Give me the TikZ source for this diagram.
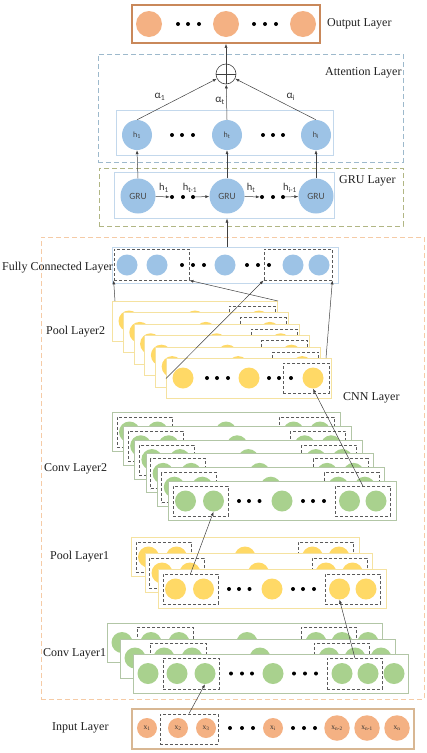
\documentclass[tikz,border=0pt]{standalone}
\usepackage{fontspec}
\setmainfont{Liberation Serif}
\newfontfamily\sanf{Carlito}
\usetikzlibrary{arrows.meta}
\definecolor{orgfill}{HTML}{F4B183}
\definecolor{orgline}{HTML}{C9885A}
\definecolor{inpline}{HTML}{D8B793}
\definecolor{bluefill}{HTML}{9DC3E6}
\definecolor{blueline}{HTML}{C3D8EC}
\definecolor{attline}{HTML}{9DB9CC}
\definecolor{gruline}{HTML}{B1B684}
\definecolor{cnnline}{HTML}{F5CBA6}
\definecolor{yelfill}{HTML}{FFD966}
\definecolor{yelline}{HTML}{F5E2A0}
\definecolor{grnfill}{HTML}{A9D18E}
\definecolor{grnline}{HTML}{B2C6A6}
\definecolor{dashc}{HTML}{5A5A5A}
\definecolor{arrc}{HTML}{404040}
\tikzset{
  lbl/.style={anchor=west, font=\fontsize{12}{14}\selectfont, text=black!88, inner sep=0pt},
  cbox/.style={dash pattern=on 5pt off 3pt, line width=1pt, inner sep=0pt},
  ocirc/.style={circle, fill=orgfill, inner sep=0pt, minimum size=#1},
  ocirc/.default=26pt,
  bcirc/.style={circle, fill=bluefill, inner sep=0pt, minimum size=#1},
  ycirc/.style={circle, fill=yelfill, inner sep=0pt, minimum size=21pt},
  gcirc/.style={circle, fill=grnfill, inner sep=0pt, minimum size=21pt},
  fcirc/.style={circle, fill=bluefill, inner sep=0pt, minimum size=21pt},
  dotn/.style={circle, fill=black, inner sep=0pt, minimum size=4pt},
  dbox/.style={draw=dashc, dash pattern=on 3pt off 2pt, line width=0.8pt, inner sep=0pt},
  arr/.style={-{Latex[length=4pt,width=3pt]}, draw=arrc, line width=0.5pt},
  yrect/.style={draw=yelline, fill=white, line width=1pt, inner sep=0pt},
  grect/.style={draw=grnline, fill=white, line width=1pt, inner sep=0pt},
  brect/.style={draw=blueline, fill=white, line width=1pt, inner sep=0pt},
  small/.style={font=\sanf\fontsize{8}{9}\selectfont, text=black!75, inner sep=0pt},
  xlab/.style={font=\fontsize{7.5}{8}\selectfont, text=black!80},
  alab/.style={font=\sanf\fontsize{11}{12}\selectfont, text=black!80},
  hlab/.style={font=\sanf\fontsize{10.5}{11}\selectfont, text=black!80},
}
% pool layer 2 slice: x y name
\newcommand\poolTwoSlice[3]{%
  \node[yrect, anchor=north west, minimum width=165pt, minimum height=40pt] (#3) at (#1,#2) {};
  \foreach \cx [count=\k] in {17,83,147}{\node[ycirc] (#3c\k) at (#1+\cx,#2+20) {};}
  \foreach \cx [count=\k] in {41,51,62,103,113,125}{\node[dotn] (#3p\k) at (#1+\cx,#2+20) {};}
  \node[dbox, anchor=north west, minimum width=46pt, minimum height=30pt] (#3d) at (#1+117,#2+5) {};
}
% wide slice (conv2, pool1): x y name rectstyle circstyle
\newcommand\wideSlice[5]{%
  \node[#4, anchor=north west, minimum width=227.5pt, minimum height=39pt] (#3) at (#1,#2) {};
  \foreach \cx [count=\k] in {17.5,45.5,114,181.5,208}{\node[#5] (#3c\k) at (#1+\cx,#2+20) {};}
  \foreach \cx [count=\k] in {71,81,91.5,135,145,156}{\node[dotn] (#3p\k) at (#1+\cx,#2+20) {};}
  \node[dbox, anchor=north west, minimum width=55pt, minimum height=30pt] (#3L) at (#1+4.5,#2+5) {};
  \node[dbox, anchor=north west, minimum width=55pt, minimum height=30pt] (#3R) at (#1+167,#2+5) {};
}
% conv1 slice: x y name
\newcommand\convOneSlice[3]{%
  \node[grect, anchor=north west, minimum width=275pt, minimum height=39pt] (#3) at (#1,#2) {};
  \foreach \cx [count=\k] in {15,44,72,140,209,235,261}{\node[gcirc] (#3c\k) at (#1+\cx,#2+19.5) {};}
  \foreach \cx [count=\k] in {98,109,119,161,172,183}{\node[dotn] (#3p\k) at (#1+\cx,#2+19.5) {};}
  \node[dbox, anchor=north west, minimum width=56pt, minimum height=31pt] (#3L) at (#1+30,#2+4) {};
  \node[dbox, anchor=north west, minimum width=55pt, minimum height=31pt] (#3R) at (#1+194,#2+4) {};
}
\begin{document}
\begin{tikzpicture}[x=1pt,y=-1pt]
\useasboundingbox (0,0) rectangle (427,753);
% containers
\node[cbox, draw=attline, minimum width=305pt, minimum height=108pt] (attbox) at (250.5,108) {};
\node[cbox, draw=gruline, minimum width=304pt, minimum height=58pt] (grubig) at (251,197) {};
\node[cbox, draw=cnnline, minimum width=383pt, minimum height=462pt] (cnnbox) at (232.5,468) {};
% output layer
\node[draw=orgline, line width=1.6pt, fill=white, minimum width=188pt, minimum height=38pt, inner sep=0pt] (outbox) at (226,24) {};
\node[ocirc] (o1) at (149,24) {};
\node[ocirc] (o2) at (226,24) {};
\node[ocirc] (o3) at (303,24) {};
\foreach \cx [count=\k] in {178,188,199,254,265,276}{\node[dotn] (op\k) at (\cx,24) {};}
\node[lbl] (outlbl) at (327,24) {Output Layer};
% attention layer
\node[circle, draw=arrc, line width=0.6pt, minimum size=20pt, inner sep=0pt] (sum) at (226,74) {};
\draw[arrc, line width=0.6pt] (sum.north) -- (sum.south) (sum.west) -- (sum.east);
\node[lbl] (attlbl) at (325,73) {Attention Layer};
\node[brect, minimum width=217pt, minimum height=45pt] (hbox) at (224.5,132.5) {};
\node[bcirc=30pt, small] (h1) at (137,135) {h\textsubscript{1}};
\node[bcirc=30pt, small] (h2) at (227,135) {h\textsubscript{t}};
\node[bcirc=30pt, small] (h3) at (316,135) {h\textsubscript{i}};
\foreach \cx [count=\k] in {172,182,193,263,273,283}{\node[dotn] (hp\k) at (\cx,135) {};}
\draw[arr] (h1.north) -- (sum);
\draw[arr] (h2.north) -- (sum);
\draw[arr] (h3.north) -- (sum);
\draw[arr] (sum) -- (outbox.south -| sum);
\node[alab] (a1) at (160,97) {α\textsubscript{1}};
\node[alab] (a2) at (220,101) {α\textsubscript{t}};
\node[alab] (a3) at (291,97) {α\textsubscript{i}};
% GRU layer
\node[lbl] (grulbl) at (339,181) {GRU Layer};
\node[brect, minimum width=220pt, minimum height=46pt] (grubox) at (224,195) {};
\node[bcirc=35pt, font=\sanf\fontsize{9.5}{10}\selectfont, text=black!70] (g1) at (138,196) {GRU};
\node[bcirc=35pt, font=\sanf\fontsize{9.5}{10}\selectfont, text=black!70] (g2) at (227,196) {GRU};
\node[bcirc=35pt, font=\sanf\fontsize{9.5}{10}\selectfont, text=black!70] (g3) at (316,196) {GRU};
\foreach \cx [count=\k] in {172,183,193,262,273,283}{\node[dotn] (gp\k) at (\cx,197) {};}
\draw[arr] (g1) -- (gp1);
\draw[arr] (gp3) -- (g2);
\draw[arr] (g2) -- (gp4);
\draw[arr] (gp6) -- (g3);
\draw[arr] (g1.north) -- (h1.south);
\draw[arr] (g2.north) -- (h2.south);
\draw[arr] (g3.north) -- (h3.south);
\node[hlab] (l1) at (164,188) {h\textsubscript{1}};
\node[hlab] (l2) at (190,188) {h\textsubscript{t-1}};
\node[hlab] (l3) at (251,188) {h\textsubscript{t}};
\node[hlab] (l4) at (290,188) {h\textsubscript{i-1}};
% fully connected
\node[brect, minimum width=226pt, minimum height=36pt] (fcbox) at (225,265) {};
\foreach \cx [count=\k] in {127,157,225,293,319}{\node[fcirc] (f\k) at (\cx,265) {};}
\foreach \cx [count=\k] in {182,193,204,247,258,269}{\node[dotn] (fp\k) at (\cx,265) {};}
\node[dbox, minimum width=75pt, minimum height=31pt] (fcL) at (151.5,264.5) {};
\node[dbox, minimum width=68pt, minimum height=31pt] (fcR) at (298,264.5) {};
\draw[arr] (fcbox.north -| g2) -- (grubox.south -| g2);
\node[lbl] (fclbl) at (2,268) {Fully Connected Layer};
% pool layer 2
\foreach \i in {0,...,5}{%
  \pgfmathsetmacro\px{112+10.8*\i}\pgfmathsetmacro\py{301+11.4*\i}%
  \poolTwoSlice{\px}{\py}{pt\i}}
\node[lbl] (p2lbl) at (46,332) {Pool Layer2};
% conv layer 2
\foreach \i in {0,...,5}{%
  \pgfmathsetmacro\px{112+11.2*\i}\pgfmathsetmacro\py{412+13.8*\i}%
  \wideSlice{\px}{\py}{ct\i}{grect}{gcirc}}
\node[lbl] (c2lbl) at (44,469) {Conv Layer2};
\node[lbl] (cnnlbl) at (343,398) {CNN Layer};
% pool layer 1
\foreach \i in {0,...,2}{%
  \pgfmathsetmacro\px{131+13.5*\i}\pgfmathsetmacro\py{537+16*\i}%
  \wideSlice{\px}{\py}{po\i}{yrect}{ycirc}}
\node[lbl] (p1lbl) at (50,557) {Pool Layer1};
% conv layer 1
\foreach \i in {0,...,2}{%
  \pgfmathsetmacro\px{107+13*\i}\pgfmathsetmacro\py{623+15.5*\i}%
  \convOneSlice{\px}{\py}{co\i}}
\node[lbl] (c1lbl) at (43,654) {Conv Layer1};
% input layer
\node[draw=inpline, line width=1.5pt, fill=white, minimum width=282pt, minimum height=40pt, inner sep=0pt] (inbox) at (273,729) {};
\node[ocirc=20pt, xlab] (x1) at (147,728) {x\textsubscript{1}};
\node[ocirc=20pt, xlab] (x2) at (178,728) {x\textsubscript{2}};
\node[ocirc=20pt, xlab] (x3) at (206,728) {x\textsubscript{3}};
\node[ocirc=20pt, xlab] (x4) at (273,728) {x\textsubscript{i}};
\node[ocirc=25.5pt, xlab] (x5) at (337,728) {x\textsubscript{n-2}};
\node[ocirc=25.5pt, xlab] (x6) at (367,728) {x\textsubscript{n-1}};
\node[ocirc=25.5pt, xlab] (x7) at (397,728) {x\textsubscript{n}};
\foreach \cx [count=\k] in {230,242,253,293,304,315}{\node[dotn] (xp\k) at (\cx,728) {};}
\node[dbox, minimum width=58pt, minimum height=30pt] (inL) at (189,729) {};
\node[lbl] (inlbl) at (52,728) {Input Layer};
% connectors between layers
\draw[arr] (inL.north) -- (co2c3.south);
\draw[arr] (co2R.north) -- (po2c4.south);
\draw[arr] (po2L.north) -- (ct5c2.south);
\draw[arr] (ct5R.north) -- (pt5c3.south);
\draw[arr] ([xshift=3pt]pt0.north west) -- (fcL.south west);
\draw[arr] (pt0.north east) -- (fcL.south east);
\draw[arr] (pt5.west) -- (fcR.south west);
\draw[arr] ([xshift=-6pt]pt5.north east) -- (fcR.south east);
\end{tikzpicture}
\end{document}
